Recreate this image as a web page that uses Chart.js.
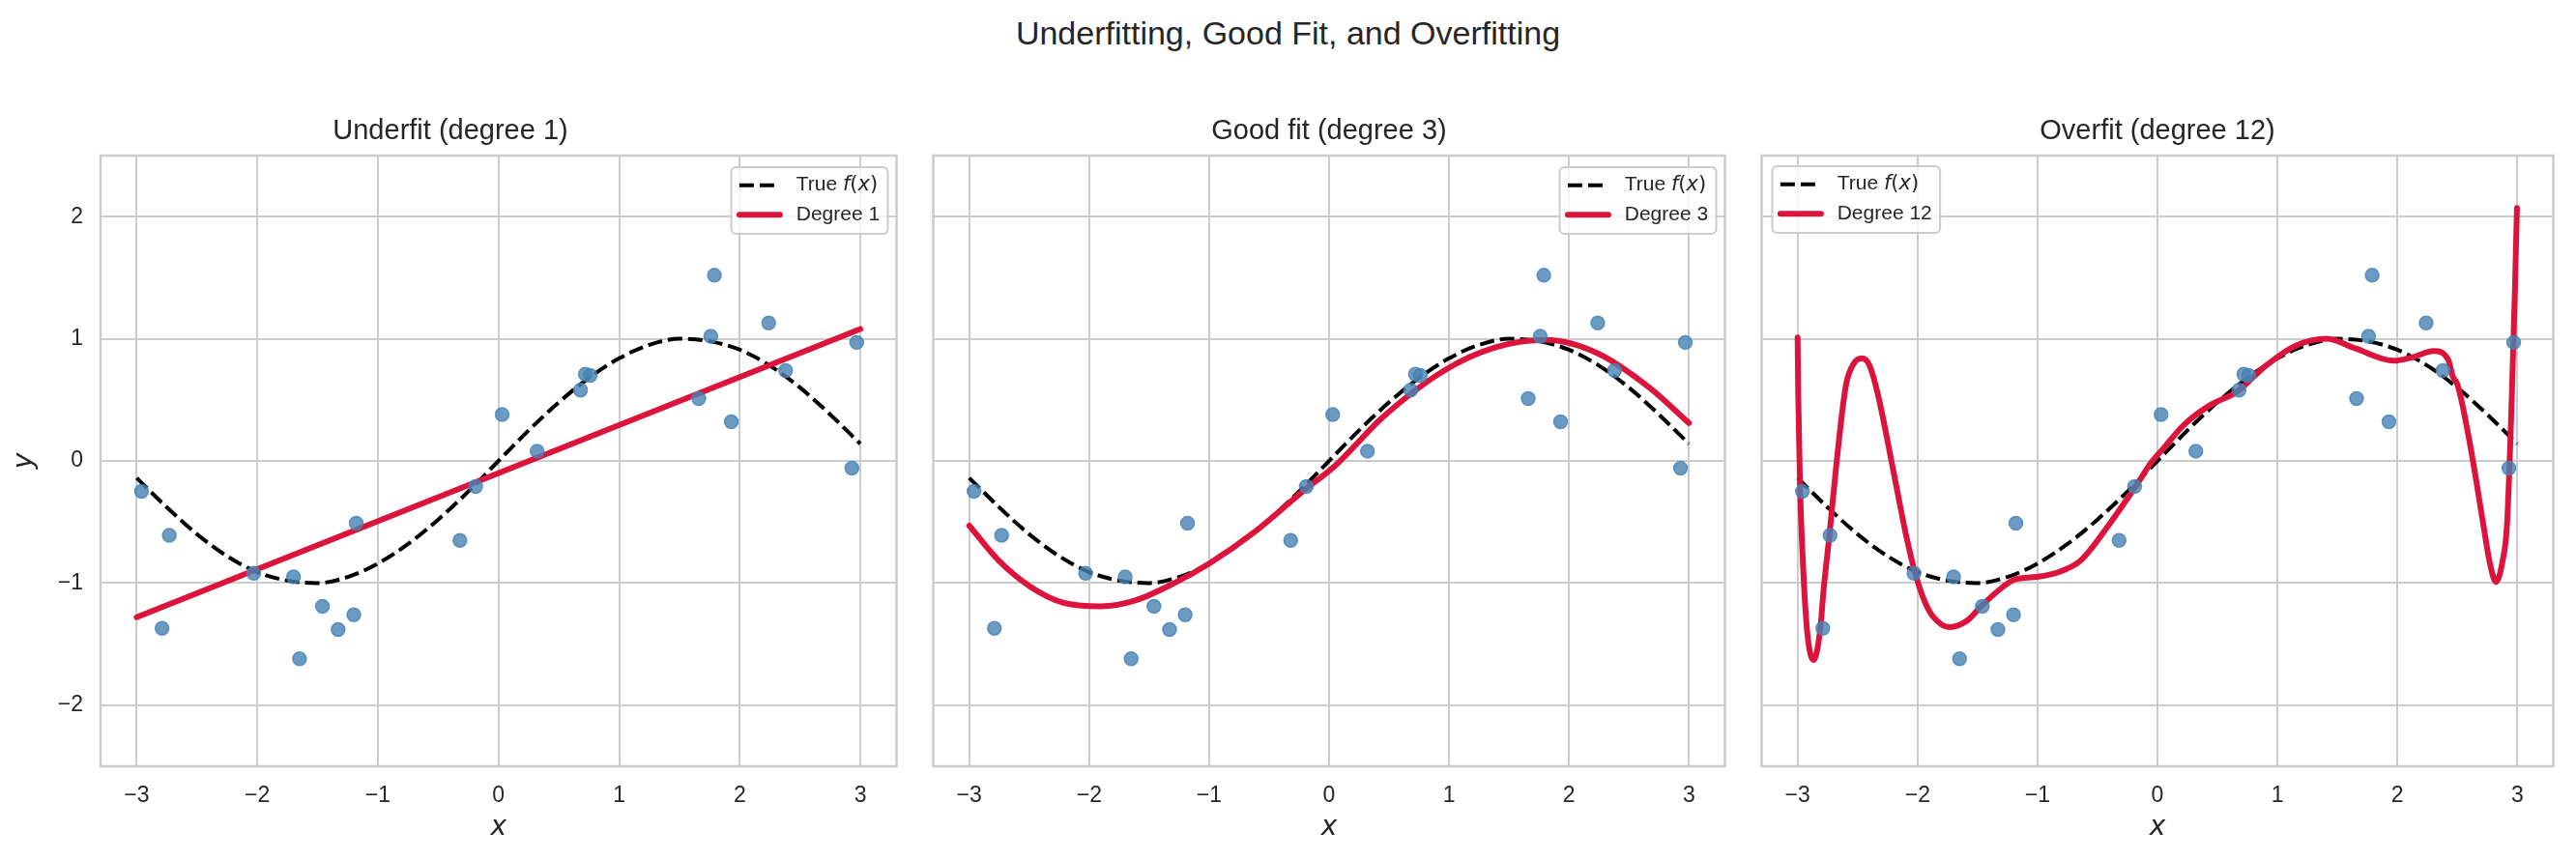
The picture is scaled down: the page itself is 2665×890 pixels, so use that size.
<!DOCTYPE html>
<html>
<head>
<meta charset="utf-8">
<script src="https://cdn.jsdelivr.net/npm/chart.js@4.4.1/dist/chart.umd.min.js"></script>
<style>
  html, body { margin: 0; padding: 0; background: #fff; }
  body { width: 2665px; height: 890px; position: relative; overflow: hidden; font-family: "Liberation Sans", Arial, sans-serif; }
  #suptitle { position: absolute; left: 0; top: 17px; width: 2665px; text-align: center; font-size: 34px; line-height: 34px; color: #262626; }
  canvas { position: absolute; top: 100px; }
</style>
</head>
<body>
<div id="suptitle">Underfitting, Good Fit, and Overfitting</div>
<canvas id="panel-under" width="936" height="790" style="left:0px"></canvas>
<canvas id="panel-good" width="836" height="790" style="left:957px"></canvas>
<canvas id="panel-over" width="836" height="790" style="left:1814px"></canvas>
<script>
// noisy samples (same in every panel)
const sampleX = [-2.96, -2.79, -2.73, -2.03, -1.70, -1.65, -1.46, -1.33, -1.20, -1.18, -0.32, -0.19, 0.03,
                 0.32, 0.68, 0.72, 0.76, 1.66, 1.76, 1.79, 1.93, 2.24, 2.38, 2.93, 2.97];
const sampleY = [-0.25, -1.37, -0.61, -0.92, -0.95, -1.62, -1.19, -1.38, -1.26, -0.51, -0.65, -0.21, 0.38,
                 0.08, 0.58, 0.71, 0.70, 0.51, 1.02, 1.52, 0.32, 1.13, 0.74, -0.06, 0.97];

// dashed "true" curve
const trueX = [-3, -2.75, -2.5, -2.25, -2, -1.75, -1.5, -1.25, -1, -0.75, -0.5, -0.25, 0,
               0.25, 0.5, 0.75, 1, 1.25, 1.5, 1.75, 2, 2.25, 2.5, 2.75, 3];
const trueY = [-0.14, -0.38, -0.60, -0.78, -0.91, -0.98, -1.00, -0.95, -0.84, -0.68, -0.48, -0.25, 0,
               0.25, 0.48, 0.68, 0.84, 0.95, 1.00, 0.98, 0.91, 0.78, 0.60, 0.38, 0.14];

// fitted curves
const fit1X = [-3, 3];
const fit1Y = [-1.28, 1.08];

const fit3X = [-3.0, -2.75, -2.49, -2.22, -1.9, -1.61, -1.29, -1.0, -0.62, -0.22, 0.05, 0.45, 0.96, 1.39, 1.81, 2.24, 2.67, 3.0];
const fit3Y = [-0.53, -0.82, -1.03, -1.16, -1.19, -1.14, -1.00, -0.84, -0.58, -0.25, -0.04, 0.36, 0.74, 0.93, 0.99, 0.88, 0.60, 0.31];

const fit12X = [-3.0, -2.995, -2.981, -2.954, -2.92, -2.867, -2.814, -2.782, -2.735, -2.676, -2.597, -2.53, -2.464,
                -2.40, -2.332, -2.2, -2.093, -2.014, -1.908, -1.80, -1.728, -1.59, -1.47, -1.325, -1.19, -1.007,
                -0.795, -0.634, -0.395, -0.183, -0.05, 0.056, 0.215, 0.427, 0.666, 0.905, 1.146, 1.412, 1.652,
                1.971, 2.13, 2.303, 2.423, 2.463, 2.503, 2.609, 2.715, 2.77, 2.822, 2.875, 2.915, 2.955, 2.981, 2.997];
const fit12Y = [1.01, 0.55, -0.16, -0.87, -1.40, -1.63, -1.40, -1.04, -0.61, -0.02, 0.62, 0.80, 0.84,
                0.78, 0.55, -0.09, -0.62, -0.94, -1.22, -1.34, -1.36, -1.31, -1.19, -1.06, -0.97, -0.95,
                -0.90, -0.81, -0.51, -0.21, -0.01, 0.11, 0.29, 0.45, 0.57, 0.78, 0.94, 1.00, 0.92,
                0.82, 0.85, 0.90, 0.83, 0.69, 0.62, 0.12, -0.51, -0.83, -0.99, -0.83, -0.51, 0.55, 1.43, 2.07];

const xTicks = [-3, -2, -1, 0, 1, 2, 3];
const yTicks = [-2, -1, 0, 1, 2];

const TEXT = '#262626';
const GRID = '#cccccc';
const SANS = '"Liberation Sans", Arial, sans-serif';

Chart.defaults.font.family = SANS;
Chart.defaults.color = TEXT;

const toPoints = (xs, ys) => xs.map((x, i) => ({ x, y: ys[i] }));
const minusLabel = v => (v < 0 ? '\u2212' + Math.abs(v) : String(v));

// axes box drawn like the matplotlib spines
const framePlugin = {
  id: 'frame',
  beforeDatasetsDraw(chart) {
    const { ctx, chartArea: a } = chart;
    ctx.save();
    ctx.strokeStyle = GRID;
    ctx.lineWidth = 2.5;
    ctx.strokeRect(a.left, a.top, a.right - a.left, a.bottom - a.top);
    ctx.restore();
  }
};

// legend inside the plot area
const insetLegend = {
  id: 'insetLegend',
  afterDatasetsDraw(chart, args, opts) {
    if (!opts.label) return;
    const { ctx, chartArea: a } = chart;
    const fs = 21;
    const mainFont = fs + 'px ' + SANS;
    const mathFont = fs + 'px "DejaVu Sans"';
    const mathItalic = 'italic ' + mathFont;
    const rows = [
      { runs: [['True ', mainFont], ['f', mathItalic], ['(', mathFont], ['x', mathItalic], [')', mathFont]], dashed: true },
      { runs: [[opts.label, mainFont]], dashed: false }
    ];
    ctx.save();
    let textW = 0;
    rows.forEach(r => {
      let w = 0;
      r.runs.forEach(([t, f]) => { ctx.font = f; w += ctx.measureText(t).width; });
      textW = Math.max(textW, w);
    });
    const pad = 8.4, handle = 42, gap = 16.8;
    const w = pad + handle + gap + textW + pad;
    const h = 69;
    const x = opts.corner === 'tl' ? a.left + 11 : a.right - 9 - w;
    const y = a.top + (opts.corner === 'tl' ? 11 : 12);

    ctx.beginPath();
    ctx.roundRect(x, y, w, h, 5);
    ctx.fillStyle = 'rgba(255,255,255,0.8)';
    ctx.fill();
    ctx.lineWidth = 2;
    ctx.strokeStyle = GRID;
    ctx.stroke();

    const centers = [y + 18.7, y + 49.3];
    rows.forEach((r, i) => {
      const cy = centers[i];
      ctx.beginPath();
      ctx.moveTo(x + pad, cy);
      ctx.lineTo(x + pad + handle, cy);
      if (r.dashed) {
        ctx.setLineDash([15, 6]);
        ctx.lineCap = 'butt';
        ctx.lineWidth = 4;
        ctx.strokeStyle = '#000';
      } else {
        ctx.setLineDash([]);
        ctx.lineCap = 'round';
        ctx.lineWidth = 6;
        ctx.strokeStyle = '#dc143c';
      }
      ctx.stroke();
      ctx.setLineDash([]);
      let tx = x + pad + handle + gap;
      ctx.fillStyle = TEXT;
      ctx.textBaseline = 'middle';
      ctx.textAlign = 'left';
      r.runs.forEach(([t, f]) => {
        ctx.font = f;
        ctx.fillText(t, tx, cy);
        tx += ctx.measureText(t).width;
      });
    });
    ctx.restore();
  }
};

function makePanel(id, title, fitX, fitY, fitLabel, corner, showY) {
  const ctx = document.getElementById(id).getContext('2d');
  return new Chart(ctx, {
    type: 'line',
    data: {
      datasets: [
        {
          label: 'Samples',
          data: toPoints(sampleX, sampleY),
          showLine: false,
          pointRadius: 7,
          pointBorderWidth: 1.5,
          pointBackgroundColor: 'rgba(70,130,180,0.8)',
          pointBorderColor: 'rgba(70,130,180,0.8)',
          order: 0
        },
        {
          label: fitLabel,
          data: toPoints(fitX, fitY),
          borderColor: '#dc143c',
          borderWidth: 6,
          borderCapStyle: 'round',
          borderJoinStyle: 'round',
          cubicInterpolationMode: 'monotone',
          pointRadius: 0,
          order: 1
        },
        {
          label: 'True f(x)',
          data: toPoints(trueX, trueY),
          borderColor: '#000',
          borderWidth: 4,
          borderDash: [15, 6],
          cubicInterpolationMode: 'monotone',
          pointRadius: 0,
          order: 2
        }
      ]
    },
    options: {
      responsive: false,
      devicePixelRatio: 1,
      animation: false,
      events: [],
      layout: { padding: { left: showY ? 0 : 4, right: 4, top: 0, bottom: 0 } },
      scales: {
        x: {
          type: 'linear',
          min: -3.3,
          max: 3.3,
          afterBuildTicks: s => { s.ticks = xTicks.map(v => ({ value: v })); },
          afterFit: s => { s.height = 97; },
          ticks: { callback: minusLabel, font: { size: 23 }, color: TEXT, padding: 17, maxRotation: 0 },
          grid: { color: GRID, lineWidth: 2, drawTicks: false },
          border: { display: false },
          title: { display: true, text: 'x', color: TEXT, font: { family: 'DejaVu Sans', style: 'italic', size: 28 }, padding: { top: 0, bottom: 16 } }
        },
        y: {
          type: 'linear',
          min: -2.5,
          max: 2.5,
          afterBuildTicks: s => { s.ticks = yTicks.map(v => ({ value: v })); },
          afterFit: s => { s.width = showY ? 104 : 0; },
          ticks: { display: showY, callback: minusLabel, font: { size: 23 }, color: TEXT, padding: 18 },
          grid: { color: GRID, lineWidth: 2, drawTicks: false },
          border: { display: false },
          title: { display: showY, text: 'y', color: TEXT, font: { family: 'DejaVu Sans', style: 'italic', size: 28 }, padding: { top: 9, bottom: 0 } }
        }
      },
      plugins: {
        legend: { display: false },
        tooltip: { enabled: false },
        title: { display: true, text: title, color: TEXT, font: { size: 29, weight: 'normal' }, padding: { top: 18.6, bottom: 7.6 } },
        insetLegend: { label: fitLabel, corner: corner }
      }
    },
    plugins: [framePlugin, insetLegend]
  });
}

makePanel('panel-under', 'Underfit (degree 1)', fit1X, fit1Y, 'Degree 1', 'tr', true);
makePanel('panel-good', 'Good fit (degree 3)', fit3X, fit3Y, 'Degree 3', 'tr', false);
makePanel('panel-over', 'Overfit (degree 12)', fit12X, fit12Y, 'Degree 12', 'tl', false);
</script>
</body>
</html>
